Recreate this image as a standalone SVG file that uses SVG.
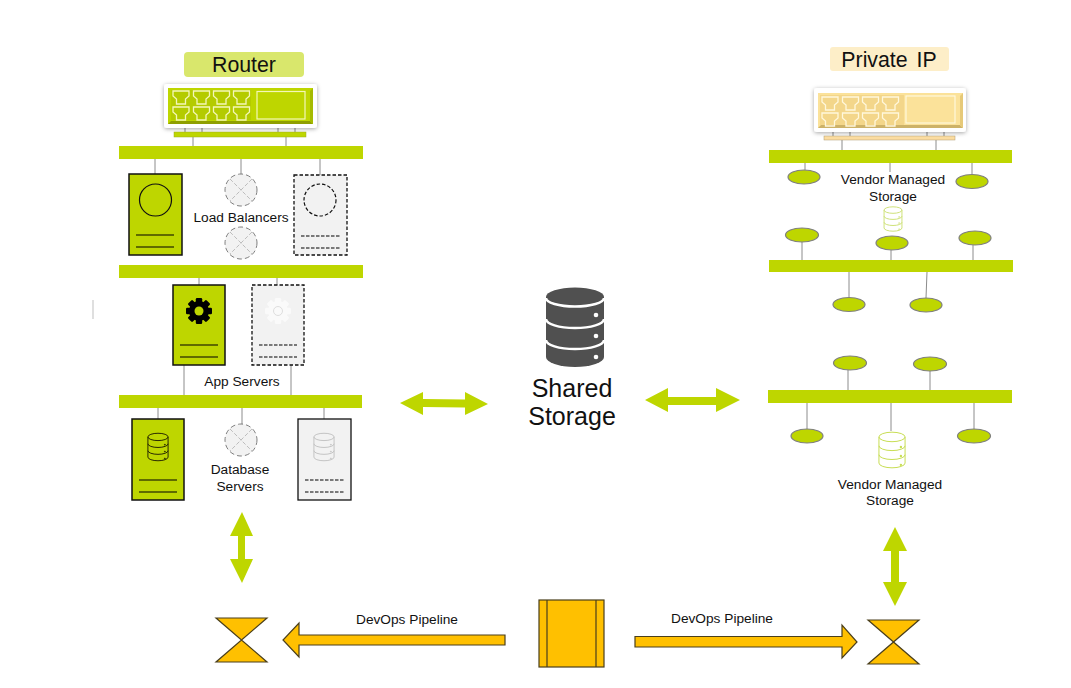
<svg xmlns="http://www.w3.org/2000/svg" xmlns:xlink="http://www.w3.org/1999/xlink" width="1071" height="688" viewBox="0 0 1071 688">
<style>
text{font-family:"Liberation Sans",Arial,sans-serif;fill:#111;text-anchor:middle}
.s{font-size:13.7px}
.t{font-size:21.3px}
.bar{fill:#bed600}
.gc{fill:#bed600;stroke:#111;stroke-width:1.5}
.dc{fill:#f2f2f2;stroke:#111;stroke-width:1.3;stroke-dasharray:3.5 2}
.sc{fill:#f2f2f2;stroke:#111;stroke-width:1.3}
.ln{stroke:#000;stroke-width:1.2;fill:none}
.dl{stroke:#000;stroke-width:1.2;stroke-dasharray:3.5 1.5;fill:none}
.con{stroke:#8c8c8c;stroke-width:1;fill:none}
.lb{fill:#f2f2f2;stroke:#7f7f7f;stroke-width:1;stroke-dasharray:5 3}
.x{stroke:#bdbdbd;stroke-width:1;stroke-dasharray:4 2}
.el{fill:#bed600;stroke:#7f7f7f;stroke-width:1.2}
.ga{fill:#bed600}
.oa{fill:#ffc000;stroke:#4a3f1c;stroke-width:1.2;stroke-linejoin:miter}
.db{fill:none;stroke-width:1;vector-effect:non-scaling-stroke}
.port{fill:none;stroke-width:1.3}
</style>
<defs>
<filter id="sh" x="-10%" y="-20%" width="120%" height="150%"><feDropShadow dx="0" dy="1" stdDeviation="2" flood-color="#000" flood-opacity=".35"/></filter>
<symbol id="dbi" viewBox="0 0 24 32" overflow="visible">
<path class="db" d="M1,5 A11,4 0 0 1 23,5 V27 A11,4 0 0 1 1,27 Z M1,5 A11,4 0 0 0 23,5 M1,12.5 A11,4 0 0 0 23,12.5 M1,20 A11,4 0 0 0 23,20"/>
<circle cx="19.5" cy="13.5" r=".5" fill="currentColor"/><circle cx="19.5" cy="21" r=".5" fill="currentColor"/><circle cx="19.5" cy="28.5" r=".5" fill="currentColor"/>
</symbol>
<path id="p" d="M0,0H16V5L12.500,8V13H3.500V8L0,5Z"/>
<g id="ports">
<use xlink:href="#p" x="0" y="0"/><use xlink:href="#p" x="20.500" y="0"/><use xlink:href="#p" x="40.500" y="0"/><use xlink:href="#p" x="60.500" y="0"/>
<use xlink:href="#p" x="0" y="16"/><use xlink:href="#p" x="20.500" y="16"/><use xlink:href="#p" x="40.500" y="16"/><use xlink:href="#p" x="60.500" y="16"/>
</g>
<g id="teeth">
<rect x="-3.200" y="-13" width="6.400" height="26" rx="1.200"/>
<rect x="-3.200" y="-13" width="6.400" height="26" rx="1.200" transform="rotate(45)"/>
<rect x="-3.200" y="-13" width="6.400" height="26" rx="1.200" transform="rotate(90)"/>
<rect x="-3.200" y="-13" width="6.400" height="26" rx="1.200" transform="rotate(135)"/>
</g>
</defs>

<g id="connectors">
<path class="con" d="M185,125V132M202,125V132M278,125V132M295,125V132M193,137V146M286,137V146"/>
<path class="con" d="M155,159V174M241,159V174M320,159V175M199,278V285M277,278V285M184,365V395M291,365V395M158,408V419M242,408V425M324,408V419"/>
<path class="con" d="M833,128V136M850,128V136M927,128V136M944,128V136M842,140V150M936,140V150"/>
<path class="con" d="M805,163V170M890,163V172M972,163V174M802,242V260M891,250V260M973,245V260M849,272V298M927,272L926,298"/>
<path class="con" d="M848,370V390M930,371V390M807,403V429M891,403V431M974,403V429"/>
<path d="M93,300V319" stroke="#bfbfbf" stroke-width="1" fill="none"/>
<polygon id="arrow-left-shared" class="ga" points="400,403 423,392 423,399 465,399.500 465,392 488,404 465,415 465,407.500 423,407 423,415"/>
<polygon id="arrow-shared-right" class="ga" points="645,400 668,388 668,397 716,397 716,388 740,400 716,412 716,405 668,405 668,412"/>
<polygon id="arrow-db-pipeline" class="ga" points="242,512 253,536 245,536 245,559 253,559 242,583 230,559 238,559 238,536 230,536"/>
<polygon id="arrow-vendor-pipeline" class="ga" points="895,527 907,551 899,551 899,582 907,582 895,606 883,582 891,582 891,551 883,551"/>
<polygon id="arrow-pipeline-left" class="oa" points="505,635 299,635 299,623 283,640 299,657 299,645 505,645"/>
<polygon id="arrow-pipeline-right" class="oa" points="635,636.500 842,636.500 842,625 857,642 842,658 842,647 635,647"/>
</g>

<g id="router">
<rect x="184" y="52" width="120" height="25" rx="4" fill="#d9e76c"/>
<text class="t" x="244" y="72">Router</text>
<rect x="164" y="84" width="153" height="44" rx="3" fill="#fff" filter="url(#sh)"/>
<rect x="168" y="88" width="145" height="36" fill="#bed600"/>
<path d="M168,124L171,121H310L313,124Z" fill="#8f9f00"/>
<path d="M310,91L313,88V124L310,121Z" fill="#a5ba00"/>
<rect x="171" y="90" width="80" height="30" fill="#b4cb00"/>
<use xlink:href="#ports" x="173" y="91" class="port" stroke="#f4f7b8"/>
<rect x="257" y="91.500" width="48" height="27.500" fill="none" stroke="#f4f7b8" stroke-width="1.200"/>
<rect x="174" y="132" width="132" height="5" fill="#bed600" stroke="#9aab20" stroke-width=".5"/>
</g>
<g id="bus-1"><rect class="bar" x="119" y="146" width="244" height="13"/></g>
<g id="bus-2"><rect class="bar" x="119" y="265" width="244" height="13"/></g>
<g id="bus-3"><rect class="bar" x="119" y="395" width="243" height="13"/></g>

<g id="lb-primary">
<rect class="gc" x="129" y="174" width="53" height="81"/>
<circle cx="155.500" cy="200" r="16" fill="none" stroke="#111" stroke-width="1.200"/>
<path class="ln" d="M136,235H174M136,247H174"/>
</g>
<g id="lb-secondary">
<rect class="dc" x="294" y="175" width="53" height="80"/>
<circle cx="320" cy="200" r="16" fill="none" stroke="#111" stroke-width="1.200" stroke-dasharray="3.500 2"/>
<path class="dl" d="M301,236H340M301,248H340"/>
</g>
<g id="lb-vip-1">
<circle class="lb" cx="241" cy="190" r="16"/>
<path class="x" d="M230,179L252,201M252,179L230,201"/>
</g>
<g id="lb-vip-2">
<circle class="lb" cx="241" cy="243" r="16"/>
<path class="x" d="M230,232L252,254M252,232L230,254"/>
</g>
<text class="s" x="241" y="222">Load Balancers</text>

<g id="app-primary">
<rect class="gc" x="173" y="285" width="52" height="80"/>
<g transform="translate(199 311)" fill="#000"><use xlink:href="#teeth"/><circle r="10"/><circle r="4.500" fill="#bed600"/></g>
<path class="ln" d="M180,345H218M180,357H218"/>
</g>
<g id="app-secondary">
<rect class="dc" x="252" y="285" width="52" height="80"/>
<g transform="translate(278 311)" fill="#fafafa"><use xlink:href="#teeth"/><circle r="10"/><circle r="4.500" fill="none" stroke="#dedede"/></g>
<path class="dl" d="M259,345H297M259,357H297"/>
</g>
<text class="s" x="242" y="386">App Servers</text>

<g id="db-primary">
<rect class="gc" x="132" y="419" width="52" height="81"/>
<use xlink:href="#dbi" x="147" y="432" width="22" height="30" stroke="#2a2a00" color="#2a2a00"/>
<path class="ln" d="M139,480H177M139,492H177"/>
</g>
<g id="db-secondary">
<rect class="sc" x="298" y="419" width="53" height="81"/>
<use xlink:href="#dbi" x="313" y="432" width="22" height="30" stroke="#c4c4c4" color="#c4c4c4"/>
<path class="dl" d="M305,480H344M305,492H344"/>
</g>
<g id="db-vip">
<circle class="lb" cx="241" cy="440" r="16"/>
<path class="x" d="M230,429L252,451M252,429L230,451"/>
</g>
<text class="s" x="240" y="474">Database</text>
<text class="s" x="240" y="491">Servers</text>

<g id="private-ip">
<rect x="830" y="47" width="119" height="24" rx="3" fill="#fdeec8"/>
<text class="t" x="889" y="66.500" word-spacing="3">Private IP</text>
<rect x="814" y="88" width="152" height="44" rx="3" fill="#fff" filter="url(#sh)"/>
<rect x="818" y="93" width="145" height="35" fill="#fbe29a"/>
<path d="M818,128L821,125H960L963,128Z" fill="#cdb268"/>
<path d="M960,96L963,93V128L960,125Z" fill="#e6c978"/>
<rect x="820" y="95" width="84" height="30" fill="#f3d68a"/>
<use xlink:href="#ports" x="822" y="97" class="port" stroke="#fff8dc"/>
<rect x="906" y="96" width="49" height="27" fill="none" stroke="#fff8dc" stroke-width="1.200"/>
<rect x="824" y="136" width="131" height="4" fill="#fbdca0" stroke="#b09a70" stroke-width=".5"/>
</g>
<g id="vendor-bus-1"><rect class="bar" x="769" y="150" width="243" height="13"/></g>
<g id="vendor-bus-2"><rect class="bar" x="769" y="260" width="244" height="12"/></g>
<g id="vendor-bus-3"><rect class="bar" x="768" y="390" width="244" height="13"/></g>
<g id="vendor-nodes">
<ellipse class="el" cx="804" cy="177" rx="16" ry="7"/>
<ellipse class="el" cx="972" cy="181.500" rx="16" ry="7"/>
<ellipse class="el" cx="802" cy="235" rx="16.500" ry="7"/>
<ellipse class="el" cx="892" cy="243" rx="16" ry="7"/>
<ellipse class="el" cx="975" cy="238" rx="16" ry="7"/>
<ellipse class="el" cx="849" cy="304.500" rx="16" ry="7"/>
<ellipse class="el" cx="926" cy="305" rx="16" ry="7"/>
<ellipse class="el" cx="850" cy="363" rx="16.500" ry="7"/>
<ellipse class="el" cx="930" cy="364" rx="16.500" ry="7"/>
<ellipse class="el" cx="807" cy="436" rx="16" ry="7"/>
<ellipse class="el" cx="974" cy="436" rx="16.500" ry="7"/>
</g>
<g id="vendor-storage-1">
<text class="s" x="893" y="184">Vendor Managed</text>
<text class="s" x="893" y="201">Storage</text>
<use xlink:href="#dbi" x="883" y="206" width="20" height="26" stroke="#cfe27a" color="#cfe27a"/>
</g>
<g id="vendor-storage-2">
<use xlink:href="#dbi" x="877" y="431" width="30" height="38" stroke="#c8de55" color="#c8de55"/>
<text class="s" x="890" y="489">Vendor Managed</text>
<text class="s" x="890" y="505">Storage</text>
</g>

<g id="shared-storage">
<path d="M546,297 A29,9.500 0 0 1 604,297 V357 A29,10 0 0 1 546,357 Z" fill="#505050"/>
<path d="M546,298 A29,8.500 0 0 0 604,298 M546,319 A29,9 0 0 0 604,319 M546,340 A29,9 0 0 0 604,340" fill="none" stroke="#fff" stroke-width="2.500"/>
<circle cx="596" cy="315" r="2.300" fill="#fff"/><circle cx="596" cy="336" r="2.300" fill="#fff"/><circle cx="596" cy="357" r="2.300" fill="#fff"/>
<text x="572" y="397" font-size="25">Shared</text>
<text x="572" y="425" font-size="25">Storage</text>
</g>

<g id="pipeline-box">
<rect class="oa" x="539" y="600" width="65" height="67"/>
<path d="M547,600V667M596,600V667" stroke="#4a3f1c" stroke-width="1.200" fill="none"/>
</g>
<g id="target-left"><path class="oa" d="M216,618H267L216,662H267Z"/></g>
<g id="target-right"><path class="oa" d="M868,620H919L868,664H919Z"/></g>
<text class="s" x="407" y="624">DevOps Pipeline</text>
<text class="s" x="722" y="623">DevOps Pipeline</text>
</svg>
